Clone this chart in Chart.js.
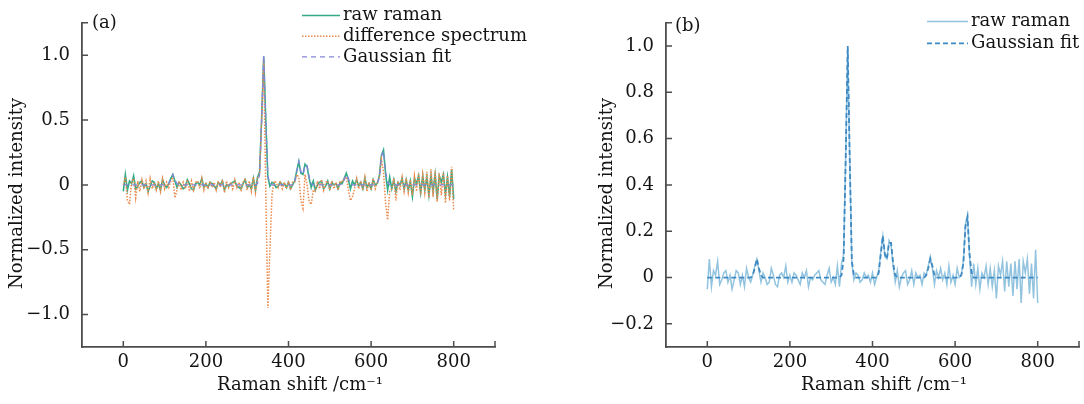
<!DOCTYPE html>
<html>
<head>
<meta charset="utf-8">
<script src="https://cdn.jsdelivr.net/npm/chart.js@4.4.0/dist/chart.umd.min.js"></script>
<style>
  html, body { margin: 0; padding: 0; background: #fff; }
  #wrap { position: relative; width: 1084px; height: 404px; }
  #chartA { position: absolute; left: 0; top: 0; }
  #chartB { position: absolute; left: 540px; top: 0; }
</style>
</head>
<body>
<div id="wrap">
  <canvas id="chartA" width="540" height="404"></canvas>
  <canvas id="chartB" width="544" height="404"></canvas>
</div>
<script>
// Spectrum data, sampled every 5 cm-1
const ramanShift = [
  0, 5, 10, 15, 20, 25, 30, 35, 40, 45,
  50, 55, 60, 65, 70, 75, 80, 85, 90, 95,
  100, 105, 110, 115, 120, 125, 130, 135, 140, 145,
  150, 155, 160, 165, 170, 175, 180, 185, 190, 195,
  200, 205, 210, 215, 220, 225, 230, 235, 240, 245,
  250, 255, 260, 265, 270, 275, 280, 285, 290, 295,
  300, 305, 310, 315, 320, 325, 330, 335, 340, 345,
  350, 355, 360, 365, 370, 375, 380, 385, 390, 395,
  400, 405, 410, 415, 420, 425, 430, 435, 440, 445,
  450, 455, 460, 465, 470, 475, 480, 485, 490, 495,
  500, 505, 510, 515, 520, 525, 530, 535, 540, 545,
  550, 555, 560, 565, 570, 575, 580, 585, 590, 595,
  600, 605, 610, 615, 620, 625, 630, 635, 640, 645,
  650, 655, 660, 665, 670, 675, 680, 685, 690, 695,
  700, 705, 710, 715, 720, 725, 730, 735, 740, 745,
  750, 755, 760, 765, 770, 775, 780, 785, 790, 795,
  800
];

const rawRaman = [
  -0.05, 0.08, -0.04, 0.03, 0.01, 0.07, -0.03, -0.01, 0.02, 0.03,
  -0.02, 0.01, -0.05, -0.01, 0.03, 0.02, -0.03, 0.01, -0.04, 0.04,
  0, -0.02, 0.01, 0.05, 0.08, 0.03, -0.02, 0.02, 0, -0.03,
  -0.02, 0.04, 0.01, -0.03, -0.04, 0.01, 0.02, 0, 0.05, -0.02,
  0.01, -0.02, 0.02, 0.01, -0.01, -0.03, 0.02, 0, 0.03, -0.04,
  0, -0.01, 0.01, 0.02, 0.03, -0.01, -0.02, -0.03, 0.01, 0.04,
  -0.02, 0, -0.03, 0.05, -0.04, 0.06, 0.1, 0.52, 0.99, 0.5,
  0.06, -0.01, 0.02, 0.01, -0.02, -0.01, 0.02, 0, 0.01, -0.02,
  0.02, -0.03, 0, 0.03, 0.11, 0.18, 0.09, 0.08, 0.16, 0.14,
  0.05, -0.02, 0.03, -0.04, 0, 0.02, 0.03, -0.03, -0.01, 0.03,
  -0.03, 0.02, 0, 0.01, -0.03, 0.02, 0.01, 0.05, 0.09, 0.04,
  -0.03, 0.03, 0, 0.04, -0.01, 0.02, -0.03, 0.05, -0.02, 0.01,
  -0.03, 0.04, 0, 0.01, 0.07, 0.23, 0.27, 0.09, -0.04, 0.06,
  -0.03, 0.04, -0.05, 0.02, 0, 0.05, -0.03, 0.04, -0.04, 0.03,
  -0.09, 0.05, 0.01, 0.07, -0.06, 0.07, -0.04, 0.06, -0.08, 0.07,
  -0.05, 0.08, -0.11, 0.07, 0.02, 0.08, -0.07, 0.06, -0.09, 0.12,
  -0.11
];

const differenceSpectrum = [
  0, 0.06, -0.12, -0.15, 0.02, 0.05, -0.1, 0.03, -0.05, 0.04,
  -0.03, 0.03, -0.06, 0.05, -0.03, 0.02, -0.04, 0.03, -0.05, 0.05,
  -0.03, 0.02, -0.02, 0.03, 0.06, -0.1, -0.04, 0.03, -0.04, 0.02,
  -0.03, 0.04, -0.05, 0.03, -0.04, 0.02, 0.03, -0.03, 0.05, -0.04,
  0.02, -0.03, 0.03, -0.02, 0.02, -0.04, 0.03, -0.02, 0.04, -0.06,
  0.03, -0.02, 0.02, -0.03, 0.04, -0.02, 0.02, -0.05, 0.02, 0.05,
  -0.04, 0.03, -0.05, 0.06, -0.06, 0.05, 0.08, 0.5, 0.95, -0.05,
  -0.95, -0.5, -0.08, 0.03, 0.02, -0.02, 0.03, -0.03, 0.02, -0.03,
  0.03, -0.04, 0.02, 0.02, 0.08, 0.06, -0.12, -0.18, 0.08, 0,
  -0.13, -0.15, -0.04, -0.05, 0.03, -0.03, 0.04, -0.04, 0.02, 0.03,
  -0.04, 0.03, -0.03, 0.02, -0.04, 0.03, 0.02, 0.05, 0.06, -0.04,
  -0.12, -0.09, -0.03, 0.05, -0.03, 0.03, -0.04, 0.06, -0.05, 0.02,
  -0.04, 0.05, -0.03, 0.02, 0.06, 0.2, 0.1, -0.14, -0.27, -0.05,
  -0.03, 0.05, -0.12, 0.03, -0.04, 0.06, -0.05, 0.05, -0.06, 0.04,
  -0.08, 0.07, -0.05, 0.09, -0.08, 0.08, -0.06, 0.1, -0.1, 0.12,
  -0.09, 0.11, -0.13, 0.09, -0.08, 0.1, -0.14, 0.07, -0.12, 0.14,
  -0.2
];

const gaussianFit = [
  0, 0, 0, 0, 0, 0, 0, 0, 0, 0,
  0, 0, 0, 0, 0, 0, 0, 0, 0, 0,
  0, 0, 0.01, 0.04, 0.08, 0.04, 0.01, 0, 0, 0,
  0, 0, 0, 0, 0, 0, 0, 0, 0, 0,
  0, 0, 0, 0, 0, 0, 0, 0, 0, 0,
  0, 0, 0, 0, 0, 0, 0, 0, 0, 0,
  0, 0, 0, 0, 0, 0.01, 0.08, 0.5, 1.0, 0.5,
  0.07, 0.01, 0, 0, 0, 0, 0, 0, 0, 0,
  0, 0, 0, 0.02, 0.1, 0.18, 0.1, 0.08, 0.15, 0.15,
  0.06, 0.01, 0, 0, 0, 0, 0, 0, 0, 0,
  0, 0, 0, 0, 0, 0, 0.01, 0.04, 0.08, 0.05,
  0.01, 0, 0, 0, 0, 0, 0, 0, 0, 0,
  0, 0, 0, 0.01, 0.06, 0.22, 0.26, 0.1, 0.02, 0,
  0, 0, 0, 0, 0, 0, 0, 0, 0, 0,
  0, 0, 0, 0, 0, 0, 0, 0, 0, 0,
  0, 0, 0, 0, 0, 0, 0, 0, 0, 0,
  0
];

const xTicks = [0, 200, 400, 600, 800];
const yTicksA = [-1, -0.5, 0, 0.5, 1];
const yTicksB = [-0.2, 0, 0.2, 0.4, 0.6, 0.8, 1];

const FONT = 'DejaVu Serif';
const FONT_SIZE = 18;
const TEXT_COLOR = '#141414';
const AXIS_COLOR = '#4d4d4d';

function points(values) {
  return ramanShift.map((x, i) => ({ x: x, y: values[i] }));
}

function tickLabel(v) {
  if (v === 0) return '0';
  return v.toFixed(1).replace('-', '\u2212');
}

// Small inward tick marks, like the original plot
const inwardTicks = {
  id: 'inwardTicks',
  afterDraw(chart) {
    const ctx = chart.ctx;
    const xs = chart.scales.x;
    const ys = chart.scales.y;
    const len = 6;
    ctx.save();
    ctx.strokeStyle = AXIS_COLOR;
    ctx.lineWidth = 1.5;
    ctx.beginPath();
    xs.ticks.map(t => t.value).concat([xs.max]).forEach(v => {
      const px = xs.getPixelForValue(v);
      ctx.moveTo(px, xs.top);
      ctx.lineTo(px, xs.top - len);
    });
    ys.ticks.map(t => t.value).concat([ys.max]).forEach(v => {
      const py = ys.getPixelForValue(v);
      ctx.moveTo(ys.right, py);
      ctx.lineTo(ys.right + len, py);
    });
    ctx.stroke();
    ctx.restore();
  }
};

// Legend with line samples + panel letter
const lineLegend = {
  id: 'lineLegend',
  afterDraw(chart, args, opts) {
    const ctx = chart.ctx;
    ctx.save();
    ctx.font = FONT_SIZE + 'px "' + FONT + '"';
    ctx.textBaseline = 'middle';
    ctx.textAlign = 'left';
    ctx.fillStyle = TEXT_COLOR;
    opts.items.forEach((idx, row) => {
      const ds = chart.data.datasets[idx];
      const y = opts.top + row * opts.rowHeight;
      ctx.strokeStyle = ds.borderColor;
      ctx.lineWidth = ds.borderWidth;
      ctx.setLineDash(ds.borderDash || []);
      ctx.beginPath();
      ctx.moveTo(opts.lineStart, y);
      ctx.lineTo(opts.lineEnd, y);
      ctx.stroke();
      ctx.setLineDash([]);
      ctx.fillText(ds.label, opts.textX, y);
    });
    ctx.fillText(opts.panel, opts.panelX, opts.panelY);
    ctx.restore();
  }
};

function makeChart(canvasId, datasets, yMin, yMax, yTicks, axisWidth, yTitlePad, padRight, legend) {
  const el = document.getElementById(canvasId);
  const font = { family: FONT, size: FONT_SIZE };
  return new Chart(el, {
    type: 'line',
    data: { datasets: datasets },
    options: {
      responsive: false,
      animation: false,
      events: [],
      layout: { padding: { left: 0, top: 5, right: padRight, bottom: 0 } },
      plugins: {
        legend: { display: false },
        tooltip: { enabled: false },
        lineLegend: legend
      },
      elements: {
        point: { radius: 0 },
        line: { tension: 0, fill: false }
      },
      scales: {
        x: {
          type: 'linear',
          min: -100,
          max: 900,
          afterBuildTicks: s => { s.ticks = xTicks.map(v => ({ value: v })); },
          afterFit: s => { s.height = 57; },
          grid: { display: false, drawTicks: false },
          border: { display: true, color: AXIS_COLOR, width: 1.8 },
          ticks: {
            font: font, color: TEXT_COLOR, padding: 5,
            maxRotation: 0, autoSkip: false,
            callback: v => String(v)
          },
          title: {
            display: true,
            // leading spaces nudge the title right, as in the original
            text: '    Raman shift /cm\u207B\u00B9',
            font: font, color: TEXT_COLOR,
            padding: { top: 0, bottom: 8 }
          }
        },
        y: {
          type: 'linear',
          min: yMin,
          max: yMax,
          afterBuildTicks: s => { s.ticks = yTicks.map(v => ({ value: v })); },
          afterFit: s => { s.width = axisWidth; },
          grid: { display: false, drawTicks: false },
          border: { display: true, color: AXIS_COLOR, width: 1.8 },
          ticks: {
            font: font, color: TEXT_COLOR, padding: 12,
            autoSkip: false,
            callback: v => tickLabel(v)
          },
          title: {
            display: true,
            // trailing spaces move the rotated title slightly down
            text: 'Normalized intensity   ',
            font: font, color: TEXT_COLOR,
            padding: { top: yTitlePad, bottom: 0 }
          }
        }
      }
    },
    plugins: [inwardTicks, lineLegend]
  });
}

document.addEventListener('DOMContentLoaded', function() {
  // Panel (a): raw, difference and fit
  makeChart('chartA', [
    {
      label: 'Gaussian fit',
      data: points(gaussianFit),
      borderColor: '#8585da',
      borderWidth: 1.3,
      borderDash: [5, 4]
    },
    {
      label: 'difference spectrum',
      data: points(differenceSpectrum),
      borderColor: '#ec8a4c',
      borderWidth: 1.5,
      borderDash: [1.5, 1.5]
    },
    {
      label: 'raw raman',
      data: points(rawRaman),
      borderColor: '#34ab88',
      borderWidth: 1.6
    }
  ], -1.25, 1.25, yTicksA, 82, 7, 45, {
    items: [2, 1, 0],
    top: 15.5, rowHeight: 20.7,
    lineStart: 302, lineEnd: 340, textX: 343,
    panel: '(a)', panelX: 92, panelY: 23
  });

  // Panel (b): raw and fit
  makeChart('chartB', [
    {
      label: 'Gaussian fit',
      data: points(gaussianFit),
      borderColor: '#3f8ac2',
      borderWidth: 1.8,
      borderDash: [5, 3]
    },
    {
      label: 'raw raman',
      data: points(rawRaman),
      borderColor: '#93c4df',
      borderWidth: 1.5
    }
  ], -0.3, 1.1, yTicksB, 126, 57, 5, {
    items: [1, 0],
    top: 21.6, rowHeight: 21.7,
    lineStart: 387, lineEnd: 428, textX: 431,
    panel: '(b)', panelX: 135, panelY: 26
  });
});
</script>
</body>
</html>
